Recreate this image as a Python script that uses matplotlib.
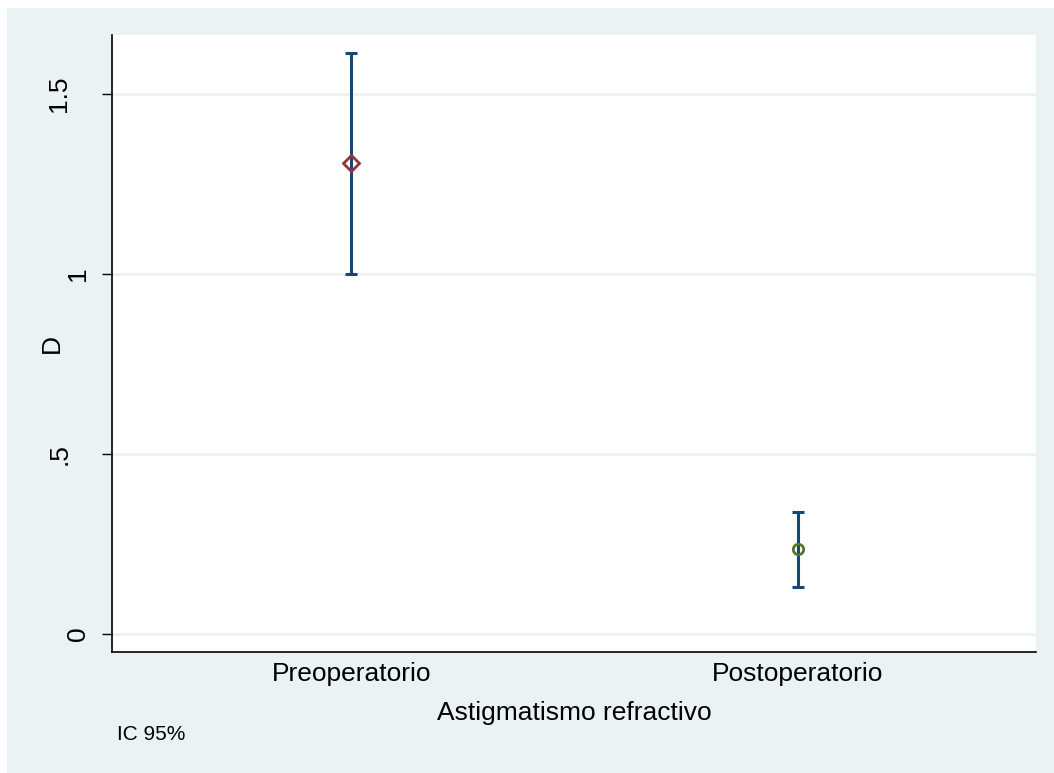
import matplotlib.pyplot as plt
from matplotlib.patches import Rectangle
from matplotlib.transforms import ScaledTranslation

# Datos (media e IC 95%)
grupos = ["Preoperatorio", "Postoperatorio"]
posiciones = [1, 2]
media = [1.308, 0.236]
ic_inf = [1.000, 0.131]
ic_sup = [1.614, 0.339]
y_ticks = [0, 0.5, 1, 1.5]
y_tick_labels = ["0", ".5", "1", "1.5"]

plt.rcParams["font.family"] = ["Liberation Sans", "DejaVu Sans"]

fondo = "#EAF2F3"
azul = "#1A476F"

fig = plt.figure(figsize=(10.54, 7.73), dpi=100)
fig.patch.set_facecolor("white")
fig.patches.append(Rectangle((7 / 1054, 0), 1, (773 - 8) / 773,
                             transform=fig.transFigure, facecolor=fondo,
                             edgecolor="none", zorder=-10))

ax = fig.add_axes([112 / 1054, 121 / 773, (1036 - 112) / 1054, (652 - 35) / 773])
ax.set_facecolor("white")

for i in range(len(grupos)):
    ax.errorbar(posiciones[i], media[i],
                yerr=[[media[i] - ic_inf[i]], [ic_sup[i] - media[i]]],
                fmt="none", ecolor=azul, elinewidth=2.2, capsize=4.3,
                capthick=2.2, zorder=3)

ax.plot(posiciones[0], media[0], marker="D", markersize=8, markerfacecolor="none",
        markeredgecolor="#90353B", markeredgewidth=2, linestyle="none", zorder=4)
ax.plot(posiciones[1], media[1], marker="o", markersize=7.5, markerfacecolor="none",
        markeredgecolor="#55752F", markeredgewidth=2, linestyle="none", zorder=4)

ax.set_xlim(0.464, 2.534)
ax.set_ylim(-0.05, 1.664)
ax.set_xticks(posiciones)
ax.set_xticklabels(grupos, fontsize=19)
ax.tick_params(axis="x", length=0, pad=7)
ax.set_yticks(y_ticks)
ax.set_yticklabels(y_tick_labels, fontsize=19, rotation=90, va="center")
ax.tick_params(axis="y", length=7.2, width=1, pad=8.5)

ax.grid(axis="y", color=fondo, linewidth=2)
ax.set_axisbelow(True)
for lado in ["top", "right"]:
    ax.spines[lado].set_visible(False)
ax.spines["left"].set_linewidth(1.2)
ax.spines["bottom"].set_linewidth(1.2)

ax.set_xlabel("Astigmatismo refractivo", fontsize=19)
ax.xaxis.set_label_coords(0.5, -0.080)
ax.set_ylabel("D", fontsize=19)
ax.yaxis.set_label_coords(-0.052, 0.5)

# las etiquetas con punto decimal aparecen desplazadas a la izquierda
desplazamiento = ScaledTranslation(-19 / 100, 0, fig.dpi_scale_trans)
for etiqueta in ax.get_yticklabels():
    if "." in etiqueta.get_text():
        etiqueta.set_transform(etiqueta.get_transform() + desplazamiento)

fig.text(117 / 1054, 1 - 735 / 773, "IC 95%", fontsize=15, va="center", ha="left")

fig.savefig("out.png", dpi=100)
